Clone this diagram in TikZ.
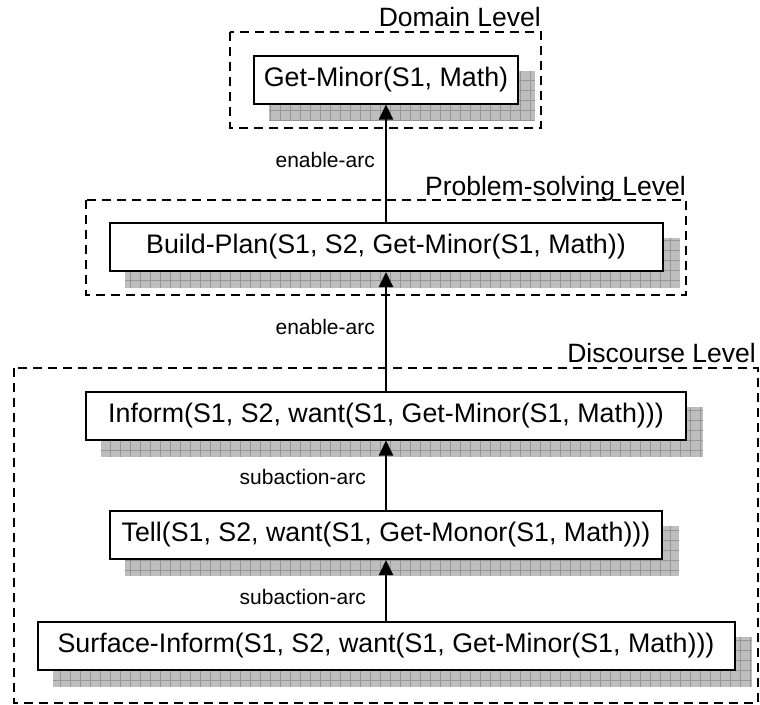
\documentclass[tikz,border=0pt]{standalone}
\usepackage{fontspec}
\setmainfont{Liberation Sans}
\usetikzlibrary{arrows.meta,calc,backgrounds}
\definecolor{shadowgray}{RGB}{190,190,190}
\definecolor{gridgray}{RGB}{150,150,150}
\tikzset{
  actbox/.style={draw=black, line width=2pt, fill=white, minimum height=48pt,
    inner sep=0pt, font=\fontsize{26.8}{30}\selectfont},
  levelbox/.style={draw=black, line width=1.8pt, dash pattern=on 9pt off 6pt},
  levellabel/.style={anchor=base east, inner sep=0pt, font=\fontsize{26.5}{30}\selectfont},
  arclabel/.style={anchor=east, inner sep=0pt, font=\fontsize{21}{24}\selectfont},
  arc/.style={line width=2pt, -{Triangle[length=15pt, width=14pt]}},
}
% grey hatched drop shadow behind an action box
\newcommand\actshadow[1]{%
  \begin{scope}
    \path ($(#1.south west)+(16,16)$) coordinate (#1-sa)
          ($(#1.north east)+(16,16)$) coordinate (#1-sb);
    \fill[shadowgray] (#1-sa) rectangle (#1-sb);
    \clip (#1-sa) rectangle (#1-sb);
    \draw[gridgray, line width=0.9pt, step=10pt] (#1-sa) grid (#1-sb);
  \end{scope}}
\begin{document}
\begin{tikzpicture}[x=1pt, y=-1pt]
\useasboundingbox (0,0) rectangle (760,704);

% level frames
\draw[levelbox] (230,32) coordinate (dl) rectangle (541,128) coordinate (dr);
\draw[levelbox] (86,200) coordinate (pl) rectangle (686,295) coordinate (pr);
\draw[levelbox] (14,368) coordinate (cl) rectangle (758,703) coordinate (cr);
\node[levellabel] (domlab) at (541,27) {Domain Level};
\node[levellabel] (pslab) at (686,195) {Problem-solving Level};
\node[levellabel] (dislab) at (756,362) {Discourse Level};

% actions
\node[actbox, minimum width=264pt] (getminor) at (386,79.5) {Get-Minor(S1, Math)};
\node[actbox, minimum width=553pt] (buildplan) at (386,247) {Build-Plan(S1, S2, Get-Minor(S1, Math))};
\node[actbox, minimum width=600pt] (inform) at (386,415.5) {Inform(S1, S2, want(S1, Get-Minor(S1, Math)))};
\node[actbox, minimum width=552pt] (tell) at (386,535) {Tell(S1, S2, want(S1, Get-Monor(S1, Math)))};
\node[actbox, minimum width=697pt] (surface) at (386,646) {Surface-Inform(S1, S2, want(S1, Get-Minor(S1, Math)))};

\begin{scope}[on background layer]
  \actshadow{getminor}
  \actshadow{buildplan}
  \actshadow{inform}
  \actshadow{tell}
  \actshadow{surface}
\end{scope}

% arcs
\draw[arc] (buildplan.north) -- (getminor.south);
\draw[arc] (inform.north) -- (buildplan.south);
\draw[arc] (tell.north) -- (inform.south);
\draw[arc] (surface.north) -- (tell.south);

\node[arclabel] (en1) at (375,160) {enable-arc};
\node[arclabel] (en2) at (375,327) {enable-arc};
\node[arclabel] (sub1) at (366,477) {subaction-arc};
\node[arclabel] (sub2) at (366,597) {subaction-arc};
\end{tikzpicture}
\end{document}
